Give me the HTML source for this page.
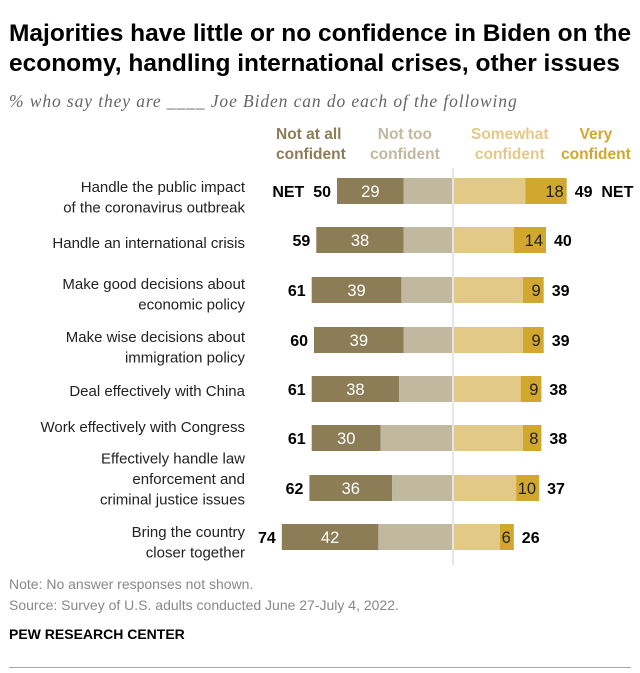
<!DOCTYPE html>
<html><head><meta charset="utf-8"><style>
body{margin:0;background:#fff;font-family:"Liberation Sans",Arial,sans-serif;}
#wrap{position:relative;width:640px;height:673px;overflow:hidden}
.t{position:absolute;white-space:nowrap}
</style></head><body><div id="wrap">
<div class="t" style="left:9px;top:19px;font-size:24.5px;font-weight:bold;line-height:30px;color:#000">Majorities have little or no confidence in Biden on the<br>economy, handling international crises, other issues</div>
<div class="t" style="left:9px;top:91px;font-size:17.5px;font-style:italic;color:#666;font-family:'Liberation Serif',serif;letter-spacing:0.9px">% who say they are ____ Joe Biden can do each of the following</div>
<div class="t" style="left:276px;top:125px;font-size:15.5px;font-weight:bold;color:#8c7d57;line-height:20px">Not at all<br>confident</div>
<div class="t" style="left:370px;top:125px;font-size:15.5px;font-weight:bold;color:#c0b99f;line-height:20px;text-align:center">Not too<br>confident</div>
<div class="t" style="left:471px;top:125px;font-size:15.5px;font-weight:bold;color:#e3c987;line-height:20px;text-align:center">Somewhat<br>confident</div>
<div class="t" style="left:561px;top:125px;font-size:15.5px;font-weight:bold;color:#d2a72f;line-height:20px;text-align:center">Very<br>confident</div>
<svg id="ch" width="640" height="673" style="position:absolute;left:0;top:0"></svg>
<div class="t" style="left:9px;top:576px;font-size:14px;color:#888">Note: No answer responses not shown.</div>
<div class="t" style="left:9px;top:597px;font-size:14px;color:#888">Source: Survey of U.S. adults conducted June 27-July 4, 2022.</div>
<div class="t" style="left:9px;top:626px;font-size:14px;font-weight:bold;color:#000">PEW RESEARCH CENTER</div>
<div style="position:absolute;left:9px;top:667px;width:622px;height:1px;background:#aaa"></div>
</div>
<script>
const categories=[["Handle the public impact","of the coronavirus outbreak"],["Handle an international crisis"],["Make good decisions about","economic policy"],["Make wise decisions about","immigration policy"],["Deal effectively with China"],["Work effectively with Congress"],["Effectively handle law","enforcement and","criminal justice issues"],["Bring the country","closer together"]];
const notAtAll=[29,38,39,39,38,30,36,42];
const netNo=[50,59,61,60,61,61,62,74];
const very=[18,14,9,9,9,8,10,6];
const netYes=[49,40,39,39,38,38,37,26];
const rowY=[191,240,290,340,389,438,488,537];
const labelY=[197,243,294,347,391,427,479,542];
const NS="http://www.w3.org/2000/svg";
const svg=document.getElementById('ch');
const C=453,K=2.3,H=26;
const x=v=>v*K;
function el(tag,a,txt){const e=document.createElementNS(NS,tag);for(const k in a)e.setAttribute(k,a[k]);if(txt!==undefined)e.textContent=txt;svg.appendChild(e);return e;}
const ln=el('line',{x1:C,x2:C,y1:168,y2:565,stroke:'#ccc','stroke-width':1});


categories.forEach((cat,i)=>{
  const y=rowY[i];
  const n=cat.length;
  cat.forEach((s,j)=>{const t=el('text',{x:245,y:labelY[i]+5+(j-(n-1)/2)*20.5,'text-anchor':'end','font-size':15,fill:'#222','font-family':'Liberation Sans,sans-serif'},s);
    
    });
  const L=C-1-x(netNo[i]);
  let r=el('rect',{x:L,y:y-H/2,width:x(notAtAll[i]),height:H,fill:'#8c7d57'});
  
  
  r=el('rect',{x:L+x(notAtAll[i]),y:y-H/2,width:x(netNo[i]-notAtAll[i]),height:H,fill:'#c0b99f'});
  
  
  r=el('rect',{x:C+1,y:y-H/2,width:x(netYes[i]-very[i]),height:H,fill:'#e3c987'});
  
  
  r=el('rect',{x:C+1+x(netYes[i]-very[i]),y:y-H/2,width:x(very[i]),height:H,fill:'#d2a72f'});
  
  
  let t=el('text',{x:L+x(notAtAll[i])/2,y:y+6,'text-anchor':'middle','font-size':16.5,fill:'#fff'},notAtAll[i]);
  
  
  t=el('text',{x:C+1+x(netYes[i])-3,y:y+6,'text-anchor':'end','font-size':16.5,fill:'#222'},very[i]);
  
  
  t=el('text',{x:L-6,y:y+6,'text-anchor':'end','font-size':16,'font-weight':'bold',fill:'#000'},(i===0?'NET  ':'')+netNo[i]);
  t.style.whiteSpace='pre';
  
  
  t=el('text',{x:C+1+x(netYes[i])+8,y:y+6,'font-size':16,'font-weight':'bold',fill:'#000'},netYes[i]+(i===0?'  NET':''));
  t.style.whiteSpace='pre';
  
  
});
</script></body></html>
